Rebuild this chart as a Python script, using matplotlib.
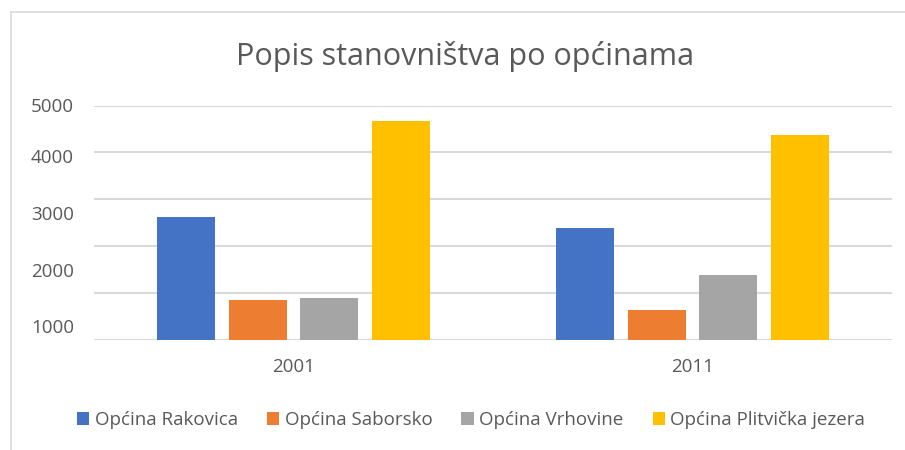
import matplotlib.pyplot as plt
from matplotlib.lines import Line2D

plt.rcParams['font.family'] = ['Open Sans', 'DejaVu Sans']

years = ['2001', '2011']
opcine = ['Općina Rakovica', 'Općina Saborsko', 'Općina Vrhovine', 'Općina Plitvička jezera']
stanovnici = [
    [2618, 2383],   # Rakovica
    [844, 630],     # Saborsko
    [887, 1378],    # Vrhovine
    [4669, 4370],   # Plitvička jezera
]
boje = ['#4472C4', '#ED7D31', '#A5A5A5', '#FFC000']
y_oznake = ['5000', '4000', '3000', '2000', '1000']

W, H = 905, 450
siva = '#595959'

fig = plt.figure(figsize=(W / 100, H / 100), dpi=100)
ax = fig.add_axes([94 / W, 1 - 339.5 / H, 798 / W, 234 / H])

sirina = 0.145
korak = 0.18
for i, (ime, vr) in enumerate(zip(opcine, stanovnici)):
    pomak = (i - 1.5) * korak
    ax.bar([k + pomak for k in range(len(years))], vr, width=sirina,
           color=boje[i], label=ime, zorder=3)

ax.set_xlim(-0.5, 1.5)
ax.set_ylim(0, 5000)
ax.set_yticks(range(0, 5001, 1000))
ax.yaxis.grid(True, color='#d9d9d9', linewidth=1.5, zorder=0)
ax.set_yticklabels([])
ax.tick_params(axis='y', length=0)
ax.set_xticks(range(len(years)))
ax.set_xticklabels(years, color=siva, fontsize=13.5)
ax.tick_params(axis='x', length=0, pad=13)
for s in ax.spines.values():
    s.set_visible(False)

# oznake y osi kako stoje na slici
for txt, yp in zip(y_oznake, [107, 158, 215, 272, 328]):
    fig.text(74 / W, 1 - yp / H, txt, ha='right', va='center',
             color=siva, fontsize=13.5)

fig.text(465 / W, 1 - 57 / H, 'Popis stanovništva po općinama',
         ha='center', va='center', color=siva, fontsize=22)

fig.legend(loc='center', bbox_to_anchor=(471 / W, 1 - 420 / H), ncol=4,
           frameon=False, fontsize=13.5, labelcolor=siva,
           handlelength=0.65, handleheight=0.65, handletextpad=0.3,
           columnspacing=1.55)

# okvir grafikona
fig.add_artist(Line2D([11 / W, 11 / W], [0, 1 - 12 / H], color='#d9d9d9', lw=1.2,
                      transform=fig.transFigure))
fig.add_artist(Line2D([11 / W, 1], [1 - 12 / H, 1 - 12 / H], color='#d9d9d9', lw=1.2,
                      transform=fig.transFigure))

fig.savefig('out.png', dpi=100)
